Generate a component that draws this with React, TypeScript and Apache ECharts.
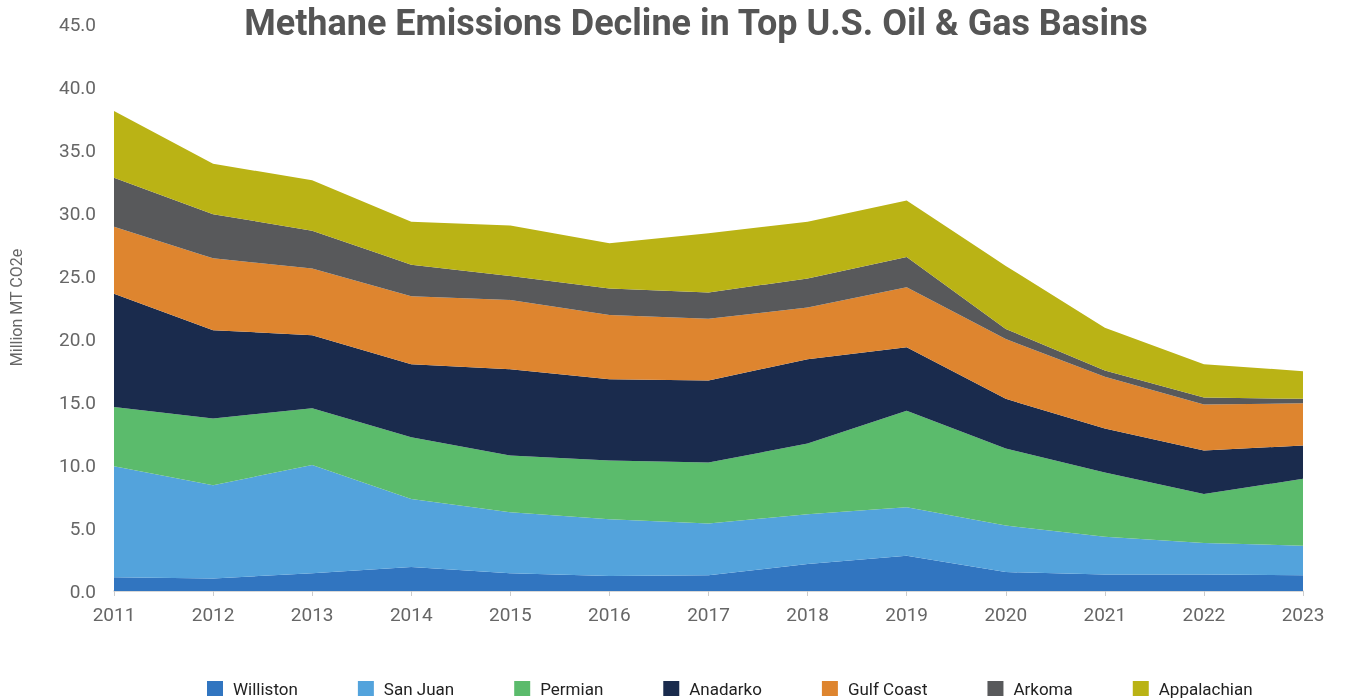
import React, { useEffect, useRef } from "react";
import * as echarts from "echarts";

const years = ["2011","2012","2013","2014","2015","2016","2017","2018","2019","2020","2021","2022","2023"];
const seriesNames = ["Williston","San Juan","Permian","Anadarko","Gulf Coast","Arkoma","Appalachian"];
const williston = [1.1, 1.0, 1.4, 1.9, 1.4, 1.2, 1.25, 2.15, 2.8, 1.5, 1.3, 1.3, 1.25];
const sanJuan = [8.8, 7.4, 8.6, 5.4, 4.85, 4.5, 4.1, 3.95, 3.85, 3.7, 3.0, 2.5, 2.35];
const permian = [4.7, 5.3, 4.5, 4.9, 4.5, 4.65, 4.85, 5.6, 7.65, 6.1, 5.1, 3.9, 5.3];
const anadarko = [9.0, 7.0, 5.8, 5.8, 6.85, 6.45, 6.5, 6.7, 5.05, 3.95, 3.5, 3.45, 2.65];
const gulfCoast = [5.3, 5.7, 5.3, 5.4, 5.5, 5.1, 4.9, 4.1, 4.75, 4.75, 4.1, 3.65, 3.35];
const arkoma = [3.9, 3.5, 3.0, 2.5, 1.9, 2.1, 2.1, 2.3, 2.4, 0.8, 0.5, 0.55, 0.35];
const appalachian = [5.3, 4.0, 4.0, 3.4, 4.0, 3.6, 4.7, 4.5, 4.5, 5.0, 3.4, 2.65, 2.2];
const seriesData = [williston, sanJuan, permian, anadarko, gulfCoast, arkoma, appalachian];
const colors = ["#3175c0", "#53a3dc", "#5bbb6c", "#1a2b4d", "#de852f", "#58595b", "#bab315"];

export default function App() {
  const ref = useRef<HTMLDivElement>(null);
  useEffect(() => {
    if (!ref.current) return;
    const chart = echarts.init(ref.current, undefined, { renderer: "svg" });
    chart.setOption({
      animation: false,
      textStyle: { fontFamily: "Roboto" },
      title: {
        text: "Methane Emissions Decline in Top U.S. Oil & Gas Basins",
        left: 691,
        textAlign: "center",
        top: 0,
        textStyle: { fontSize: 36, fontWeight: "bold", color: "#555555", fontFamily: "Roboto" },
      },
      legend: {
        data: seriesNames,
        left: 202,
        top: 675,
        itemWidth: 16,
        itemHeight: 15,
        itemGap: 60,
        icon: "rect",
        textStyle: { fontSize: 17, color: "#222222", fontFamily: "Roboto", padding: [0, 0, 0, 5] },
      },
      grid: { left: 110, right: 46, top: 24, bottom: 109 },
      xAxis: {
        type: "category",
        data: years,
        boundaryGap: false,
        axisLine: { lineStyle: { color: "#cccccc", width: 1.5 } },
        axisTick: { show: true, length: 5, lineStyle: { color: "#cccccc" } },
        axisLabel: { fontSize: 19, color: "#666666", margin: 14 },
        splitLine: { show: false },
      },
      yAxis: {
        type: "value",
        min: 0,
        max: 45,
        interval: 5,
        name: "Million MT CO2e",
        nameLocation: "middle",
        nameGap: 90,
        nameTextStyle: { fontSize: 16, color: "#666666" },
        axisLine: { show: false },
        axisTick: { show: false },
        splitLine: { show: false },
        axisLabel: { fontSize: 19, color: "#666666", margin: 18, formatter: (v: number) => v.toFixed(1) },
      },
      series: seriesNames.map((name, i) => ({
        name,
        type: "line",
        stack: "total",
        data: seriesData[i],
        showSymbol: false,
        symbol: "none",
        lineStyle: { width: 0 },
        itemStyle: { color: colors[i] },
        areaStyle: { color: colors[i], opacity: 1 },
      })),
    });
    return () => chart.dispose();
  }, []);
  return <div ref={ref} style={{ position: "fixed", left: 0, top: 0, width: 1349, height: 700 }} />;
}
